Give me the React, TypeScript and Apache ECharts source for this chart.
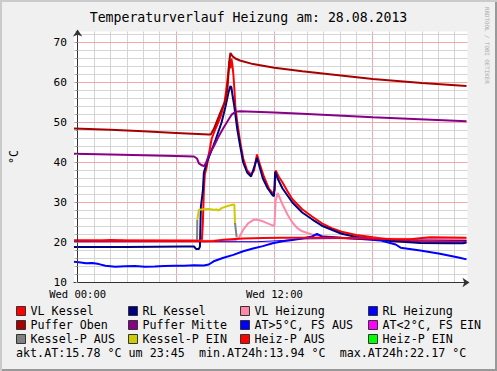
import React, { useEffect, useRef } from 'react';
import * as echarts from 'echarts';

const FONT = '"DejaVu Sans Mono", monospace';

const titleText = 'Temperaturverlauf Heizung am: 28.08.2013';
const footerText = 'akt.AT:15.78 °C um 23:45  min.AT24h:13.94 °C  max.AT24h:22.17 °C';
const watermarkText = 'RRDTOOL / TOBI OETIKER';
const yAxisName = '°C';

// x axis in hours of the day (Wed)
const xMin = -0.22;
const xMax = 23.78;
const xLabelHours = [0, 12];
const xLabelTexts = ['Wed 00:00', 'Wed 12:00'];
const hourLines = Array.from({ length: 24 }, (_, i) => i);
const majorHourLines = [0, 6, 12, 18];

const yMin = 10;
const yMax = 72.75;
const yGridValues = Array.from({ length: 32 }, (_, i) => 10 + i * 2);

const vlKessel = [
  [-0.22, 20.5], [1.5, 20.5], [2.0, 20.6], [3.0, 20.5], [7.58, 20.5], [7.64, 25], [7.7, 33], [7.76, 37],
  [7.88, 39], [8.0, 42], [8.18, 46], [8.42, 48.5], [8.72, 51.5], [8.96, 55], [9.08, 58.5], [9.2, 63],
  [9.26, 65.5], [9.32, 63.5], [9.38, 66], [9.44, 64.5], [9.5, 62], [9.56, 58.5], [9.62, 54], [9.74, 50],
  [9.92, 45], [10.1, 41], [10.34, 38], [10.58, 37], [10.76, 38], [10.94, 42], [11.12, 39.5], [11.36, 36.5],
  [11.66, 33.5], [11.9, 32.3], [12.02, 33], [12.08, 38], [12.26, 36.5], [12.5, 35], [12.8, 32.8], [13.1, 30.8],
  [13.7, 28.3], [14.3, 26.5], [14.9, 24.8], [15.5, 23.6], [16.1, 22.7], [17.0, 21.9], [18.02, 21.3],
  [19.1, 20.7], [20.3, 20.4], [21.5, 20.2], [22.7, 20.2], [23.72, 20.3],
];

const rlKessel = [
  [-0.22, 18.9], [3.0, 18.9], [6.5, 19.0], [7.1, 19.0], [7.22, 18.4], [7.4, 18.4], [7.46, 19], [7.52, 29],
  [7.64, 33], [7.7, 37.5], [7.88, 40], [8.12, 42.5], [8.42, 45.75], [8.78, 50], [9.02, 54], [9.2, 57.5],
  [9.32, 59.1], [9.38, 58.8], [9.44, 57], [9.56, 54], [9.74, 48.25], [9.92, 44], [10.1, 40], [10.34, 37.5],
  [10.58, 36.5], [10.82, 39.5], [10.94, 41.2], [11.06, 39.5], [11.3, 36], [11.6, 33.5], [11.9, 31.8],
  [11.98, 31.6], [12.05, 37.7], [12.2, 36], [12.5, 33.5], [13.1, 30], [13.7, 27.5], [14.3, 25.8],
  [14.9, 24.2], [15.5, 23.2], [16.1, 22.2], [17.0, 21.4], [18.02, 20.9], [19.1, 20.4], [20.9, 19.9],
  [22.7, 19.8], [23.5, 19.8], [23.72, 20.0],
];

const vlHeizung = [
  [-0.22, 20.3], [9.62, 20.5], [9.8, 21.0], [9.92, 21.8], [10.1, 23.2], [10.4, 24.8], [10.7, 25.6],
  [10.9, 25.75], [11.3, 25.3], [11.7, 24.6], [12.0, 24.1], [12.08, 30.5], [12.2, 32.4], [12.5, 29.5],
  [12.8, 27], [13.1, 25], [13.4, 23.6], [13.7, 22.8], [14.3, 22], [14.9, 21.6], [15.5, 21.2], [16.5, 21.0],
  [23.72, 20.8],
];

const rlHeizung = [
  [-0.22, 20.2], [7.0, 20.2], [11.0, 20.2], [12.5, 20.5], [13.7, 20.9], [16.1, 21.0], [18.5, 20.8],
  [20.9, 20.6], [23.72, 20.5],
];

const pufferOben = [
  [-0.22, 48.5], [2.0, 48.2], [4.0, 47.8], [6.0, 47.4], [8.0, 47.0], [8.12, 47.0], [8.3, 48.3], [8.54, 50.8],
  [8.78, 53.2], [9.02, 55.5], [9.14, 58.5], [9.2, 62], [9.26, 65.5], [9.32, 67.4], [9.44, 66.6], [9.62, 66.0],
  [9.9, 65.5], [10.7, 64.6], [12.0, 63.7], [13.7, 62.8], [15.5, 62.0], [18.0, 60.9], [21.0, 59.9], [23.72, 59.1],
];

const pufferMitte = [
  [-0.22, 42.2], [2.0, 42.0], [4.0, 41.8], [6.0, 41.6], [7.1, 41.5], [7.28, 41.0], [7.4, 39.8], [7.58, 39.3],
  [7.7, 39.1], [7.82, 39.8], [8.0, 41.8], [8.3, 44], [8.6, 46.5], [8.9, 48.7], [9.2, 50.7], [9.38, 51.9],
  [9.62, 52.7], [9.92, 52.8], [12.0, 52.5], [13.7, 52.2], [18.0, 51.3], [23.72, 50.3],
];

const aussen = [
  [-0.22, 15.2], [0.2, 15.0], [0.5, 14.8], [0.9, 14.85], [1.3, 14.6], [1.7, 14.2], [2.3, 13.94], [2.9, 14.05],
  [3.5, 14.1], [4.1, 13.95], [4.7, 14.0], [5.3, 14.15], [5.9, 14.2], [6.5, 14.2], [7.1, 14.3], [7.7, 14.25],
  [8.0, 14.5], [8.3, 15.3], [8.9, 16.2], [9.5, 16.9], [10.1, 17.8], [10.7, 18.5], [11.3, 19.1], [11.9, 19.8],
  [12.5, 20.3], [13.1, 20.6], [13.7, 21.0], [14.3, 21.5], [14.6, 22.17], [14.9, 21.5], [15.5, 21.4],
  [16.1, 21.2], [17.3, 20.9], [18.5, 20.5], [19.4, 19.5], [19.7, 18.7], [20.9, 18.0], [22.1, 17.2],
  [23.3, 16.2], [23.72, 15.78],
];

const kesselPAus = [
  [7.28, 20.3], [7.3, 25.7], [8.5, '-'], [9.6, 24.9], [9.7, 21.3],
];

const kesselPEin = [
  [7.3, 25.7], [7.4, 28.2], [7.7, 28.3], [8.0, 28.4], [8.3, 28.2], [8.48, 28.25], [8.6, 28.0], [8.78, 28.6],
  [9.2, 29.2], [9.5, 29.5], [9.56, 29.5], [9.6, 24.9],
];

const heizPAus = [
  [-0.22, 20.5], [7.3, 20.4], [7.7, 20.3], [8.3, 20.4], [8.9, 20.7], [10.1, 21.0], [11.3, 21.1], [12.5, 21.2],
  [15.5, 21.2], [18.0, 21.0], [19.4, 20.8], [20.3, 20.8], [21.0, 21.1], [21.5, 21.3], [23.72, 21.2],
];

const atKalt: number[][] = [];
const heizPEin: number[][] = [];

const seriesDefs = [
  { name: 'VL Kessel', color: '#FF0000', width: 2, data: vlKessel },
  { name: 'RL Kessel', color: '#000080', width: 2, data: rlKessel },
  { name: 'VL Heizung', color: '#FF88AA', width: 2, data: vlHeizung },
  { name: 'RL Heizung', color: '#0000FF', width: 1, data: rlHeizung },
  { name: 'Puffer Oben', color: '#A80000', width: 2, data: pufferOben },
  { name: 'Puffer Mitte', color: '#880088', width: 2, data: pufferMitte },
  { name: 'AT>5°C, FS AUS', color: '#0000FF', width: 2, data: aussen },
  { name: 'AT<2°C, FS EIN', color: '#FF00FF', width: 2, data: atKalt },
  { name: 'Kessel-P AUS', color: '#808080', width: 2, data: kesselPAus },
  { name: 'Kessel-P EIN', color: '#CCCC00', width: 2, data: kesselPEin },
  { name: 'Heiz-P AUS', color: '#FF0000', width: 2, data: heizPAus },
  { name: 'Heiz-P EIN', color: '#00FF00', width: 2, data: heizPEin },
];

const legendColumns = [
  ['VL Kessel', 'Puffer Oben', 'Kessel-P AUS'],
  ['RL Kessel', 'Puffer Mitte', 'Kessel-P EIN'],
  ['VL Heizung', 'AT>5°C, FS AUS', 'Heiz-P AUS'],
  ['RL Heizung', 'AT<2°C, FS EIN', 'Heiz-P EIN'],
];
const legendLefts = [16, 128, 240, 368];

const MAJOR = '#F0A8A8';
const MINOR = '#D4D4D4';

export default function App() {
  const ref = useRef<HTMLDivElement>(null);
  useEffect(() => {
    document.body.style.margin = '0';
    if (!ref.current) return;
    const chart = echarts.init(ref.current, undefined, { renderer: 'svg' });
    const gridLineItems = [
      ...hourLines.map((h) => ({ xAxis: h, lineStyle: { color: majorHourLines.includes(h) ? MAJOR : MINOR, width: 1, type: 'solid' } })),
      ...yGridValues.map((v) => ({ yAxis: v, lineStyle: { color: v % 10 === 0 ? MAJOR : MINOR, width: 1, type: 'solid' } })),
    ];
    const option: any = {
      animation: false,
      grid: { left: 67.5, top: 31.5, width: 400, height: 251, show: true, backgroundColor: '#FFFFFF', borderWidth: 0 },
      xAxis: {
        type: 'value', min: xMin, max: xMax,
        axisLine: { show: true, onZero: false, lineStyle: { color: '#333', width: 1 }, symbol: ['none', 'arrow'], symbolSize: [7, 7], symbolOffset: [0, 2] },
        axisTick: { show: false },
        splitLine: { show: false },
        axisLabel: {
          customValues: xLabelHours,
          formatter: (v: number) => { const i = xLabelHours.indexOf(v); return i >= 0 ? xLabelTexts[i] : ''; },
          fontFamily: FONT, fontSize: 10.5, color: '#000', margin: 6,
        },
        z: 10,
      },
      yAxis: {
        type: 'value', min: yMin, max: yMax, interval: 2,
        name: yAxisName, nameLocation: 'middle', nameGap: 54, nameRotate: 90,
        nameTextStyle: { fontFamily: FONT, fontSize: 11.7, color: '#000' },
        axisLine: { show: true, lineStyle: { color: '#333', width: 1 }, symbol: ['none', 'arrow'], symbolSize: [7, 7], symbolOffset: [0, 2] },
        axisTick: { show: true, length: 2, lineStyle: { color: '#999' } },
        axisLabel: {
          formatter: (v: number) => (Math.abs(v % 10) < 1e-6 ? String(v) : ''),
          fontFamily: FONT, fontSize: 11.2, color: '#000', margin: 7,
        },
        splitLine: { show: false },
        z: 10,
      },
      legend: legendColumns.map((names, i) => ({
        data: names, left: legendLefts[i], top: 304, orient: 'vertical', padding: 0, itemGap: 0,
        itemWidth: 9, itemHeight: 9, icon: 'rect', selectedMode: false,
        itemStyle: { borderColor: '#333', borderWidth: 1 },
        textStyle: { fontFamily: FONT, fontSize: 11.7, color: '#000', lineHeight: 14 },
      })),
      graphic: [
        { type: 'text', x: 248.5, y: 17, style: { text: titleText, font: `13.2px ${FONT}`, fill: '#000', align: 'center', verticalAlign: 'middle' } },
        { type: 'text', x: 16, y: 353, style: { text: footerText, font: `11.7px ${FONT}`, fill: '#000', align: 'left', verticalAlign: 'middle' } },
        { type: 'text', x: 487, y: 7, rotation: -Math.PI / 2, style: { text: watermarkText, font: `5.8px ${FONT}`, fill: '#AAAAAA', align: 'left', verticalAlign: 'middle' } },
      ],
      series: [
        {
          type: 'line', name: '__grid', data: [[xMin, yMin]], z: 1, silent: true, symbol: 'none',
          lineStyle: { width: 0 },
          markLine: {
            z: 1, silent: true, symbol: ['none', 'none'], label: { show: false }, animation: false,
            lineStyle: { type: 'solid', width: 1 },
            data: gridLineItems,
          },
        },
        ...seriesDefs.map((s) => ({
          type: 'line', name: s.name, data: s.data, z: 3, symbol: 'none', showSymbol: false,
          color: s.color, itemStyle: { color: s.color },
          lineStyle: { color: s.color, width: s.width },
          emphasis: { disabled: true }, silent: true,
        })),
      ],
    };
    chart.setOption(option);
    return () => chart.dispose();
  }, []);
  return (
    <div style={{ position: 'relative', width: 497, height: 371, background: '#F0F0F0', boxShadow: 'inset 2px 2px 0 #CBCBCB, inset -2px -2px 0 #999999' }}>
      <div ref={ref} style={{ position: 'absolute', left: 0, top: 0, width: 497, height: 371 }} />
    </div>
  );
}
